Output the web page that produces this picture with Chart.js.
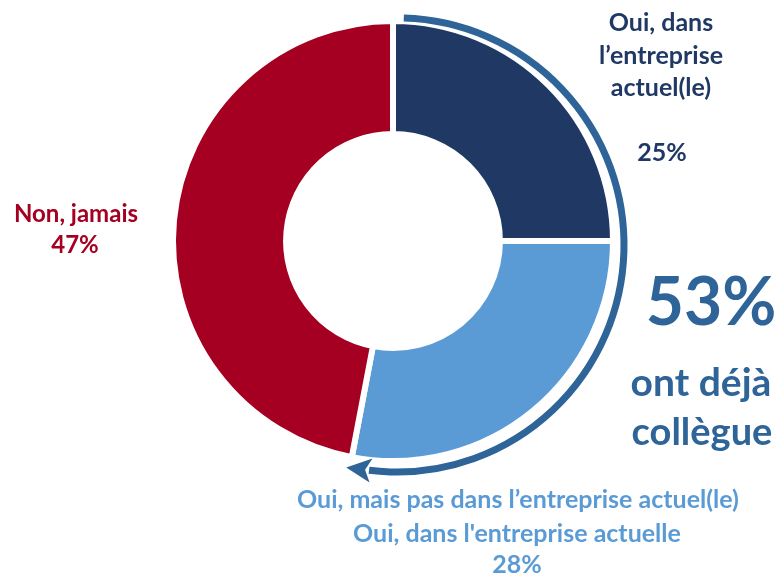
<!DOCTYPE html>
<html>
<head>
<meta charset="utf-8">
<script src="https://cdn.jsdelivr.net/npm/chart.js@4/dist/chart.umd.min.js"></script>
<style>
  body { margin: 0; background: #fff; }
  #wrap { position: relative; width: 780px; height: 574px; font-family: Lato, "Open Sans", sans-serif; font-weight: bold; }
  #wrap canvas { position: absolute; left: 0; top: 0; }
  .lbl { position: absolute; white-space: nowrap; line-height: 1; transform: translate(-50%, -50%); }
</style>
</head>
<body>
<div id="wrap">
  <canvas id="chart" width="780" height="574"></canvas>
</div>
<script>
const categories = [
  "Oui, dans l’entreprise actuel(le)",
  "Oui, mais pas dans l’entreprise actuel(le)",
  "Non, jamais"
];
const values = [25, 28, 47];
const sliceColors = ["#1F3864", "#5B9BD5", "#A50021"];
const totalLines = ["53%", "ont déjà", "collègue"];

const wrap = document.getElementById("wrap");

function addLabel(text, x, y, size, color) {
  const d = document.createElement("div");
  d.className = "lbl";
  d.textContent = text;
  d.style.left = x + "px";
  d.style.top = y + "px";
  d.style.fontSize = size + "px";
  d.style.color = color;
  wrap.appendChild(d);
}

// labels, positioned next to their slices
addLabel("Oui, dans", 661, 21, 25, sliceColors[0]);
addLabel("l’entreprise", 661, 54, 25, sliceColors[0]);
addLabel("actuel(le)", 661, 86, 25, sliceColors[0]);
addLabel(values[0] + "%", 662, 151, 25, sliceColors[0]);

addLabel("Non, jamais", 76, 213, 24, sliceColors[2]);
addLabel(values[2] + "%", 75, 244, 24, sliceColors[2]);

addLabel(categories[1], 518, 498, 25, sliceColors[1]);
addLabel("Oui, dans l'entreprise actuelle", 517, 532, 25, sliceColors[1]);
addLabel(values[1] + "%", 517, 563, 25, sliceColors[1]);

addLabel(totalLines[0], 711, 300, 66, "#2E6497");
addLabel(totalLines[1], 701, 381, 39, "#2E6497");
addLabel(totalLines[2], 702, 430, 38, "#2E6497");

// curved arrow around the "oui" slices
const arrowPlugin = {
  id: "arrow",
  afterDatasetsDraw(chart) {
    const arcs = chart.getDatasetMeta(0).data;
    const a0 = arcs[0], a1 = arcs[1];
    const cx = a0.x + 4, cy = a0.y + 4;
    const r = a0.outerRadius + 7;
    const start = a0.startAngle + 0.03;
    const end = a1.endAngle - 0.065;
    const ctx = chart.ctx;
    ctx.save();
    ctx.strokeStyle = "#2E6497";
    ctx.fillStyle = "#2E6497";
    ctx.lineWidth = 7;
    ctx.beginPath();
    ctx.arc(cx, cy, r, start, end);
    ctx.stroke();
    // arrow head
    const bx = cx + r * Math.cos(end), by = cy + r * Math.sin(end);
    const tx = -Math.sin(end), ty = Math.cos(end);
    const nx = Math.cos(end), ny = Math.sin(end);
    const L = 23, W = 12;
    ctx.beginPath();
    ctx.moveTo(bx + tx * L, by + ty * L);
    ctx.lineTo(bx + nx * W - tx * 2, by + ny * W - ty * 2);
    ctx.lineTo(bx + tx * 4, by + ty * 4);
    ctx.lineTo(bx - nx * W - tx * 2, by - ny * W - ty * 2);
    ctx.closePath();
    ctx.fill();
    ctx.restore();
  }
};

new Chart(document.getElementById("chart").getContext("2d"), {
  type: "doughnut",
  data: {
    labels: categories,
    datasets: [{
      data: values,
      backgroundColor: sliceColors,
      borderColor: "#ffffff",
      borderWidth: 6,
      hoverOffset: 0
    }]
  },
  options: {
    responsive: false,
    animation: false,
    cutout: "48.6%",
    layout: { padding: { left: 170, right: 164, top: 18, bottom: 110 } },
    plugins: {
      legend: { display: false },
      tooltip: { enabled: false }
    }
  },
  plugins: [arrowPlugin]
});
</script>
</body>
</html>
